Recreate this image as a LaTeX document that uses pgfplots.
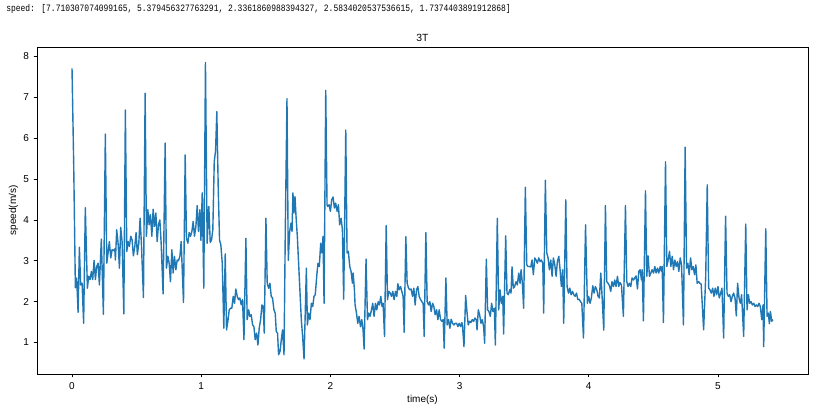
\documentclass[border=0pt]{standalone}
\usepackage{fontspec}
\setmainfont{Liberation Sans}
\newfontfamily\monofont[FakeStretch=0.82]{Liberation Mono}
\usepackage{pgfplots}
\pgfplotsset{compat=1.18}
\definecolor{mplblue}{RGB}{31,119,180}
\begin{document}
\begin{tikzpicture}[x=1pt,y=1pt]
\useasboundingbox (0,0) rectangle (617.25,306);
\node[anchor=west,inner sep=0pt,font=\monofont\fontsize{7.3}{8}\selectfont] at (4.5,299) {speed: [7.710307074099165, 5.379456327763291, 2.3361860988394327, 2.5834020537536615, 1.7374403891912868]};
\begin{axis}[
  at={(27.75pt,25.5pt)}, anchor=south west,
  scale only axis, width=578.25pt, height=245.25pt,
  xmin=-0.271, xmax=5.697, ymin=0.23, ymax=8.23,
  xtick={0,1,2,3,4,5}, ytick={1,2,3,4,5,6,7,8},
  tick pos=left, tick align=outside, major tick length=2.6pt,
  tick style={black, line width=0.6pt},
  axis line style={black, line width=0.6pt},
  ticklabel style={font=\fontsize{7.5}{9}\selectfont},
  /pgf/number format/assume math mode=true,
  title={3T}, title style={font=\fontsize{7.8}{9}\selectfont, yshift=-5.5pt},
  xlabel={time(s)}, ylabel={speed(m/s)},
  label style={font=\fontsize{7.5}{9}\selectfont},
  xlabel style={yshift=2pt},
  ylabel style={yshift=-3pt},
]
\addplot[mplblue, line width=1.05pt, line join=round, no markers] coordinates {
(0.000,7.71)(0.013,5.38)(0.026,2.34)(0.036,2.58)(0.047,1.74)(0.057,3.33)(0.067,2.41)(0.078,2.45)(0.090,1.47)(0.103,4.30)
(0.119,2.33)(0.129,2.62)(0.140,2.54)(0.150,2.74)(0.160,2.54)(0.171,3.01)(0.181,2.54)(0.191,2.86)(0.202,2.94)(0.212,2.41)
(0.227,3.53)(0.243,1.69)(0.258,6.10)(0.269,2.94)(0.279,3.19)(0.289,3.47)(0.300,3.07)(0.310,3.27)(0.320,3.25)(0.331,3.29)
(0.336,3.02)(0.346,3.76)(0.357,3.42)(0.367,2.82)(0.377,3.82)(0.388,3.45)(0.401,1.70)(0.413,6.69)(0.424,3.23)(0.434,3.47)
(0.444,3.35)(0.455,3.60)(0.465,3.51)(0.475,3.12)(0.486,3.35)(0.496,3.69)(0.506,3.15)(0.517,3.43)(0.527,4.04)(0.537,3.43)
(0.553,2.10)(0.566,7.10)(0.576,3.60)(0.587,4.25)(0.597,3.88)(0.607,4.13)(0.618,3.60)(0.628,4.26)(0.638,3.84)(0.649,4.17)
(0.659,3.47)(0.669,3.88)(0.680,4.00)(0.690,3.43)(0.705,2.19)(0.721,5.88)(0.731,2.82)(0.742,3.11)(0.752,2.94)(0.762,2.49)
(0.773,3.27)(0.783,2.70)(0.793,3.11)(0.804,2.78)(0.814,3.02)(0.824,3.00)(0.835,3.11)(0.845,3.47)(0.863,1.98)(0.876,5.59)
(0.886,3.55)(0.897,3.43)(0.907,3.69)(0.917,3.60)(0.928,3.72)(0.938,3.96)(0.948,3.60)(0.959,3.84)(0.969,4.35)(0.979,3.72)
(0.990,4.25)(0.998,3.50)(1.008,4.66)(1.020,2.33)(1.033,7.85)
(1.046,3.43)(1.059,4.33)(1.070,3.45)(1.080,3.51)(1.090,3.76)(1.101,5.43)(1.111,5.68)(1.121,6.65)(1.132,4.74)(1.142,3.51)
(1.152,3.39)(1.163,2.94)(1.175,1.35)(1.186,3.17)(1.196,1.31)(1.206,1.51)(1.217,1.80)(1.227,1.84)(1.237,1.84)(1.248,2.13)
(1.258,1.96)(1.268,2.31)(1.279,2.13)(1.289,2.05)(1.299,2.09)(1.310,1.92)(1.320,2.05)(1.331,1.07)(1.346,3.55)(1.356,1.56)
(1.367,1.80)(1.377,1.64)(1.387,1.68)(1.398,1.43)(1.408,1.39)(1.418,1.07)(1.429,1.23)(1.439,0.94)(1.449,1.35)(1.460,1.56)
(1.470,1.92)(1.480,1.88)(1.488,1.23)(1.501,4.04)(1.511,2.45)(1.522,2.33)(1.532,2.45)(1.542,2.13)(1.552,2.09)(1.563,1.80)
(1.573,1.72)(1.581,1.27)(1.591,1.23)(1.599,0.70)(1.610,0.78)(1.620,1.07)(1.630,1.31)(1.641,0.70)(1.651,3.76)(1.664,6.97)
(1.674,3.01)(1.685,3.72)(1.695,3.92)(1.703,3.72)(1.710,4.66)(1.718,4.17)(1.726,4.57)(1.734,4.09)(1.744,3.60)(1.754,2.94)
(1.765,2.21)(1.775,1.56)(1.785,1.15)(1.796,0.60)(1.806,1.80)(1.814,2.82)(1.822,1.43)(1.832,1.72)(1.842,1.56)(1.853,1.96)
(1.863,1.88)(1.873,2.13)(1.883,2.17)(1.894,2.62)(1.904,2.94)(1.914,2.86)(1.925,3.43)(1.935,3.19)(1.943,3.60)(1.951,1.96)
(1.964,7.17)(1.974,4.37)
(1.979,4.33)(1.990,4.37)(2.000,4.21)(2.010,4.49)(2.021,4.56)(2.031,4.29)(2.041,4.41)(2.052,4.21)(2.062,4.37)(2.072,3.88)
(2.083,4.04)(2.093,3.76)(2.103,2.06)(2.119,6.20)(2.129,3.19)(2.139,3.23)(2.150,2.86)(2.160,2.74)(2.171,2.45)(2.176,2.70)
(2.186,2.29)(2.191,1.92)(2.202,1.72)(2.212,1.47)(2.222,1.64)(2.233,1.39)(2.243,1.56)(2.253,1.31)(2.261,0.84)(2.276,3.04)
(2.287,1.56)(2.297,1.72)(2.307,1.64)(2.318,1.80)(2.328,1.96)(2.338,1.64)(2.349,1.96)(2.359,1.80)(2.370,2.00)(2.380,1.92)
(2.390,2.13)(2.400,1.88)(2.408,1.96)(2.419,1.15)(2.432,3.86)(2.442,2.05)(2.452,2.25)(2.463,2.21)(2.473,2.13)(2.483,2.25)
(2.493,2.05)(2.504,2.25)(2.514,2.13)(2.522,2.44)(2.532,2.29)(2.543,2.37)(2.553,2.25)(2.563,2.13)(2.571,1.25)(2.584,3.59)
(2.594,2.45)(2.605,2.33)(2.615,2.29)(2.625,2.31)(2.636,2.13)(2.646,2.33)(2.656,1.92)(2.667,2.29)(2.677,2.37)(2.687,2.13)
(2.698,2.05)(2.708,2.00)(2.718,1.96)(2.726,1.15)(2.739,3.69)(2.749,2.00)(2.760,1.92)(2.770,2.00)(2.780,1.76)(2.791,1.96)
(2.801,1.88)(2.811,1.68)(2.822,1.80)(2.832,1.56)(2.842,1.80)(2.853,1.56)(2.863,1.52)(2.873,1.56)(2.881,0.86)(2.894,2.58)
(2.904,1.43)(2.915,1.56)(2.925,1.35)(2.935,1.57)(2.946,1.47)(2.956,1.43)(2.966,1.47)
(2.977,1.47)(2.987,1.39)(2.997,1.47)(3.008,1.39)(3.018,1.49)(3.023,1.39)(3.034,0.90)(3.047,2.15)(3.057,1.76)(3.067,1.43)
(3.078,1.52)(3.088,1.49)(3.098,1.56)(3.109,1.52)(3.119,1.60)(3.129,1.56)(3.135,1.31)(3.145,1.80)(3.155,1.68)(3.166,1.47)
(3.176,1.56)(3.186,1.39)(3.194,0.98)(3.207,3.04)(3.217,1.80)(3.227,1.76)(3.238,1.64)(3.248,1.96)(3.258,1.76)(3.269,1.84)
(3.277,0.94)(3.292,4.04)(3.303,1.80)(3.313,2.29)(3.323,1.96)(3.334,2.13)(3.341,1.21)(3.357,3.61)(3.367,2.21)(3.377,2.17)
(3.388,2.29)(3.398,2.21)(3.406,2.85)(3.416,2.33)(3.426,2.37)(3.437,2.49)(3.447,2.41)(3.458,2.70)(3.468,2.45)(3.476,2.78)
(3.486,2.45)(3.496,1.84)(3.509,4.80)(3.520,2.90)(3.530,2.86)(3.540,2.86)(3.551,2.85)(3.561,3.02)(3.571,2.66)(3.582,3.07)
(3.592,3.02)(3.602,2.94)(3.613,3.07)(3.623,2.98)(3.633,3.02)(3.644,2.94)(3.651,1.72)(3.664,4.97)(3.675,3.19)(3.685,3.07)
(3.695,2.78)(3.706,3.02)(3.716,2.62)(3.726,3.07)(3.737,2.90)(3.747,2.62)(3.757,2.98)(3.768,3.11)(3.778,2.78)(3.788,2.37)
(3.798,2.78)(3.806,1.47)(3.822,4.49)(3.832,2.37)(3.843,2.21)(3.853,2.33)(3.863,2.17)(3.874,2.25)(3.884,2.17)(3.894,2.13)
(3.905,2.21)(3.915,2.05)(3.925,2.06)(3.936,2.00)(3.946,1.96)(3.959,1.11)(3.975,3.88)
(3.989,1.96)(3.999,2.13)(4.010,1.96)(4.020,2.09)(4.031,2.39)(4.041,2.21)(4.051,2.37)(4.062,2.29)(4.072,2.13)(4.082,2.09)
(4.093,2.70)(4.103,2.13)(4.116,1.30)(4.129,4.35)(4.139,2.49)(4.149,2.45)(4.160,2.39)(4.170,2.25)(4.180,2.49)(4.191,2.37)
(4.201,2.53)(4.211,2.37)(4.222,2.62)(4.232,2.37)(4.242,2.47)(4.253,2.41)(4.268,1.64)(4.284,4.35)(4.294,2.49)(4.304,2.37)
(4.315,2.45)(4.325,2.37)(4.335,2.58)(4.346,2.53)(4.356,2.58)(4.366,2.63)(4.377,2.31)(4.387,2.74)(4.397,2.78)(4.408,2.53)
(4.413,2.78)(4.423,1.53)(4.439,4.71)(4.449,2.62)(4.459,3.12)(4.470,2.62)(4.480,2.70)(4.490,2.78)(4.501,2.70)(4.511,2.86)
(4.521,2.70)(4.532,2.82)(4.542,2.70)(4.553,2.86)(4.563,2.74)(4.568,2.86)(4.578,1.49)(4.594,5.42)(4.604,2.86)(4.615,3.03)
(4.625,3.23)(4.635,2.86)(4.646,3.11)(4.656,2.78)(4.666,3.02)(4.677,2.86)(4.687,2.98)(4.697,2.74)(4.708,3.07)(4.718,2.90)
(4.733,1.43)(4.746,5.78)(4.757,2.82)(4.767,2.94)(4.777,2.66)(4.788,3.07)(4.798,2.78)(4.808,2.86)(4.819,2.66)(4.829,2.90)
(4.839,2.45)(4.850,2.49)(4.860,2.45)(4.870,2.43)
(4.889,1.31)(4.905,2.60)(4.917,4.86)(4.928,2.33)(4.938,2.29)(4.948,2.21)(4.959,2.33)(4.969,2.13)(4.979,2.33)(4.990,2.17)
(5.000,2.37)(5.010,2.09)(5.021,2.21)(5.031,2.33)(5.044,1.11)(5.059,4.09)(5.070,2.21)(5.080,2.13)(5.091,2.17)(5.101,2.00)
(5.111,2.13)(5.121,2.21)(5.132,2.09)(5.142,1.65)(5.152,2.45)(5.163,2.09)(5.173,1.96)(5.183,2.17)(5.199,1.15)(5.215,3.90)
(5.225,1.80)(5.235,2.17)(5.246,1.96)(5.256,2.00)(5.266,1.92)(5.277,1.96)(5.287,1.88)(5.297,1.92)(5.308,1.88)(5.318,1.96)
(5.328,1.88)(5.339,1.56)(5.349,1.92)(5.354,0.90)(5.370,3.78)(5.380,1.64)(5.390,1.72)(5.398,1.46)(5.406,1.76)(5.416,1.52)
(5.426,1.56)
};
\end{axis}
\end{tikzpicture}
\end{document}
